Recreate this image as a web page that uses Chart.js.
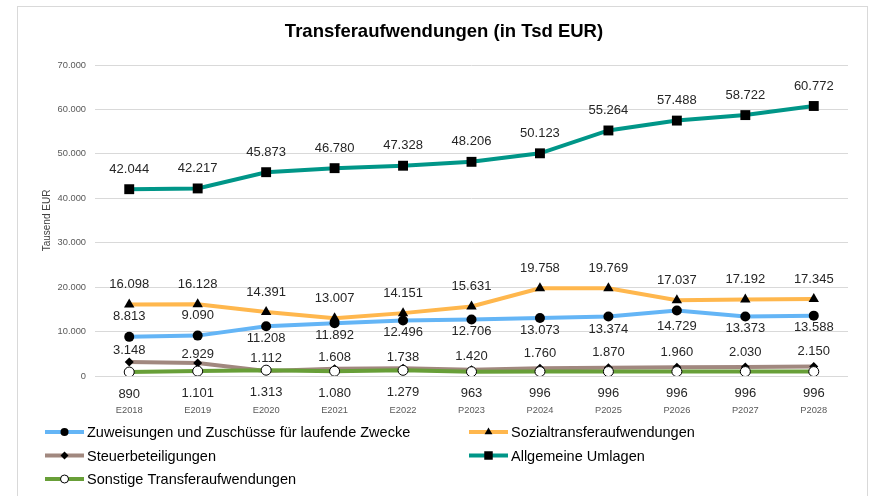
<!DOCTYPE html>
<html>
<head>
<meta charset="utf-8">
<script src="https://cdn.jsdelivr.net/npm/chart.js@4.4.0/dist/chart.umd.min.js"></script>
<style>
  html, body { margin: 0; padding: 0; background: #fff; }
  #wrap { width: 870px; height: 496px; }
</style>
</head>
<body>
<div id="wrap"><canvas id="myChart" width="870" height="496"></canvas></div>
<script>
const years = ['E2018', 'E2019', 'E2020', 'E2021', 'E2022', 'P2023', 'P2024', 'P2025', 'P2026', 'P2027', 'P2028']

const zuweisungen = [8813, 9090, 11208, 11892, 12496, 12706, 13073, 13374, 14729, 13373, 13588]
const sozialtransfer = [16098, 16128, 14391, 13007, 14151, 15631, 19758, 19769, 17037, 17192, 17345]
const steuerbeteiligungen = [3148, 2929, 1112, 1608, 1738, 1420, 1760, 1870, 1960, 2030, 2150]
const umlagen = [42044, 42217, 45873, 46780, 47328, 48206, 50123, 55264, 57488, 58722, 60772]
const sonstige = [890, 1101, 1313, 1080, 1279, 963, 996, 996, 996, 996, 996]

const yTicks = [0, 10000, 20000, 30000, 40000, 50000, 60000, 70000]

const FONT = '"Liberation Sans", Arial, sans-serif'

// 12345 -> 12.345
const fmt = v => String(v).replace(/\B(?=(\d{3})+(?!\d))/g, '.')

const datasets = [
  {
    label: 'Zuweisungen und Zuschüsse für laufende Zwecke',
    data: zuweisungen,
    borderColor: '#64B5F6',
    pointStyle: 'circle', pointRadius: 5,
    pointBackgroundColor: '#000', pointBorderColor: '#000', pointBorderWidth: 0,
    legendRadius: 4,
    labelOffset: [-20, -20, 12, 12, 12, 12, 13, 13, 16, 12, 12],
    order: 5
  },
  {
    label: 'Sozialtransferaufwendungen',
    data: sozialtransfer,
    borderColor: '#FFB74D',
    pointStyle: 'triangle', pointRadius: 6,
    pointBackgroundColor: '#000', pointBorderColor: '#000', pointBorderWidth: 0,
    legendRadius: 4.5,
    labelOffset: -20,
    order: 4
  },
  {
    label: 'Steuerbeteiligungen',
    data: steuerbeteiligungen,
    borderColor: '#A1887F',
    pointStyle: 'rectRot', pointRadius: 4.5,
    pointBackgroundColor: '#000', pointBorderColor: '#000', pointBorderWidth: 0,
    legendRadius: 4,
    labelOffset: [-12, -9, -13, -11, -11, -13, -15, -15, -15, -15, -15],
    order: 3
  },
  {
    label: 'Allgemeine Umlagen',
    data: umlagen,
    borderColor: '#009688',
    pointStyle: 'rect', pointRadius: 7,
    pointBackgroundColor: '#000', pointBorderColor: '#000', pointBorderWidth: 0,
    legendRadius: 6,
    labelOffset: -20,
    order: 2
  },
  {
    label: 'Sonstige Transferaufwendungen',
    data: sonstige,
    borderColor: '#689F38',
    pointStyle: 'circle', pointRadius: 5,
    pointBackgroundColor: '#fff', pointBorderColor: '#000', pointBorderWidth: 1,
    legendRadius: 4,
    labelOffset: 22,
    order: 1
  }
]
datasets.forEach(d => { d.borderWidth = 4; d.tension = 0; d.fill = false })

// frame, title and two-column legend
const decorations = {
  id: 'decorations',
  afterDraw(chart) {
    const ctx = chart.ctx
    ctx.save()
    ctx.strokeStyle = '#d9d9d9'
    ctx.lineWidth = 1
    ctx.strokeRect(17.5, 6.5, 850, 520)

    ctx.fillStyle = '#000'
    ctx.font = 'bold 18.5px ' + FONT
    ctx.textAlign = 'center'
    ctx.textBaseline = 'middle'
    ctx.fillText('Transferaufwendungen (in Tsd EUR)', 444, 32)

    const rows = [432, 455.5, 479]
    chart.data.datasets.forEach((ds, i) => {
      const x0 = i % 2 ? 469 : 45
      const y = rows[Math.floor(i / 2)]
      ctx.strokeStyle = ds.borderColor
      ctx.lineWidth = 4
      ctx.beginPath()
      ctx.moveTo(x0, y)
      ctx.lineTo(x0 + 39, y)
      ctx.stroke()
      ctx.fillStyle = ds.pointBackgroundColor
      ctx.strokeStyle = ds.pointBorderColor
      ctx.lineWidth = ds.pointBorderWidth
      Chart.helpers.drawPoint(ctx, {
        pointStyle: ds.pointStyle, radius: ds.legendRadius, rotation: 0, borderWidth: ds.pointBorderWidth
      }, x0 + 19.5, y)
      ctx.fillStyle = '#000'
      ctx.font = '14.5px ' + FONT
      ctx.textAlign = 'left'
      ctx.textBaseline = 'middle'
      ctx.fillText(ds.label, x0 + 42, y + 1)
    })
    ctx.restore()
  }
}

// value labels next to each marker
const valueLabels = {
  id: 'valueLabels',
  afterDatasetsDraw(chart) {
    const ctx = chart.ctx
    ctx.save()
    ctx.font = '13px ' + FONT
    ctx.fillStyle = '#262626'
    ctx.textAlign = 'center'
    ctx.textBaseline = 'middle'
    chart.data.datasets.forEach((ds, i) => {
      chart.getDatasetMeta(i).data.forEach((pt, j) => {
        const off = Array.isArray(ds.labelOffset) ? ds.labelOffset[j] : ds.labelOffset
        ctx.fillText(fmt(ds.data[j]), pt.x, pt.y + off)
      })
    })
    ctx.restore()
  }
}

const config = {
  type: 'line',
  data: { labels: years, datasets: datasets },
  options: {
    responsive: false,
    animation: false,
    layout: { padding: { left: 0, top: 65, right: 22, bottom: 70 } },
    plugins: { legend: { display: false }, title: { display: false }, tooltip: { enabled: false } },
    scales: {
      x: {
        offset: true,
        grid: { display: false, drawTicks: false },
        border: { display: false },
        ticks: { color: '#595959', font: { family: FONT, size: 9.3 }, padding: 29, maxRotation: 0 },
        afterFit: scale => { scale.height = 50 }
      },
      y: {
        min: 0, max: 70000,
        afterBuildTicks: scale => { scale.ticks = yTicks.map(v => ({ value: v })) },
        grid: { color: '#d9d9d9', lineWidth: 1, drawTicks: false },
        border: { display: false },
        ticks: { color: '#595959', font: { family: FONT, size: 9.3 }, padding: 9, callback: v => fmt(v) },
        title: { display: true, text: 'Tausend EUR', color: '#404040', font: { family: FONT, size: 10 }, padding: { top: 41, bottom: 0 } },
        afterFit: scale => { scale.width = 95 }
      }
    }
  },
  plugins: [valueLabels, decorations]
}

const myChart = new Chart(document.getElementById('myChart'), config)
</script>
</body>
</html>
